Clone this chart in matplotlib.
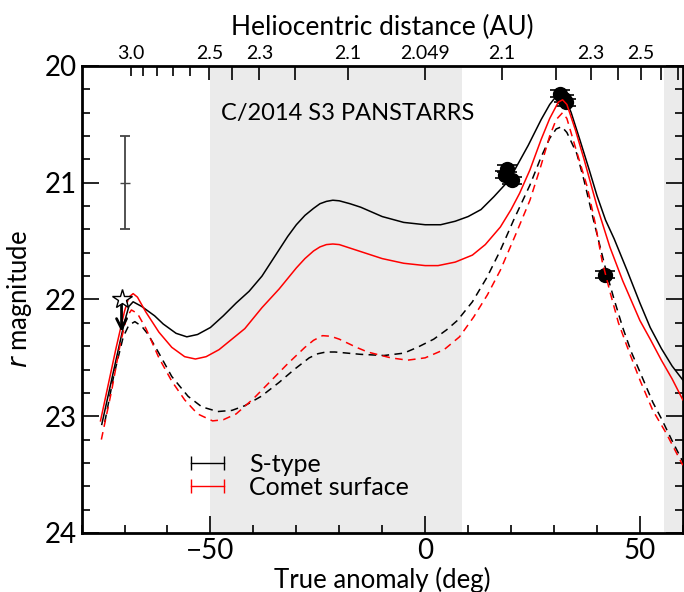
import numpy as np
import matplotlib
matplotlib.use('Agg')
import matplotlib.pyplot as plt
from matplotlib.lines import Line2D
from matplotlib.ticker import MultipleLocator

plt.rcParams['font.family'] = ['Lato', 'DejaVu Sans']

# Model light curves (true anomaly in deg, r mag)
STYPE_X = [-75.3, -72, -70, -69, -68, -66, -63, -61, -58, -55.5, -53, -50,
           -47, -44, -41, -38, -35, -32, -30, -28, -26, -24.5, -23, -21.5,
           -20, -17.5, -15, -10, -5, 0, 3.6, 7, 10, 13, 16, 19, 21, 24, 27,
           29, 30.5, 31.5, 32.5, 34, 36, 38.2, 40, 42, 44, 47, 50, 52.4, 55,
           57.5, 60]
STYPE_Y = [23.07, 22.52, 22.19, 22.06, 22.02, 22.06, 22.14, 22.21, 22.29,
           22.32, 22.30, 22.24, 22.14, 22.03, 21.93, 21.80, 21.63, 21.46,
           21.36, 21.28, 21.22, 21.18, 21.16, 21.15, 21.155, 21.18, 21.21,
           21.29, 21.34, 21.36, 21.36, 21.33, 21.29, 21.23, 21.12, 21.00,
           20.88, 20.68, 20.46, 20.33, 20.26, 20.24, 20.26, 20.40, 20.63,
           20.89, 21.11, 21.32, 21.48, 21.75, 22.03, 22.24, 22.42, 22.57,
           22.69]

COMET_X = [-75.6, -72, -70, -69, -68, -67, -65, -62, -59, -56, -53.5, -51,
           -48, -45, -42, -38, -34, -30, -28, -26, -24.5, -23, -21.5, -20,
           -17.5, -15, -10, -5, 0, 3, 7, 11, 14, 17.5, 20, 22, 24.4, 27, 29,
           31, 32, 33, 35, 37, 40, 43, 46, 50, 52.4, 55, 57.5, 60]
COMET_Y = [23.04, 22.42, 22.10, 21.98, 21.95, 21.98, 22.11, 22.28, 22.41,
           22.49, 22.51, 22.49, 22.43, 22.34, 22.25, 22.07, 21.91, 21.73,
           21.65, 21.585, 21.55, 21.53, 21.525, 21.53, 21.56, 21.59, 21.65,
           21.69, 21.71, 21.71, 21.68, 21.62, 21.53, 21.38, 21.23, 21.09,
           20.89, 20.63, 20.45, 20.31, 20.29, 20.33, 20.55, 20.80, 21.20,
           21.55, 21.84, 22.18, 22.34, 22.52, 22.68, 22.86]

STYPE_D_X = [-74.6, -72.5, -70.3, -69, -67.6, -66, -64.5, -62, -59, -55.2,
             -52, -48.3, -45, -42, -38.2, -34, -30.5, -27, -25, -23.1, -21,
             -18, -15, -9.6, -5, -1.8, 2, 5, 7.5, 11, 14.4, 17.5, 20.6, 24.4,
             27, 29, 30.5, 31.8, 33, 35.3, 37, 39.2, 42.3, 44, 46, 48, 50, 53,
             55, 57.5, 60]
STYPE_D_Y = [23.05, 22.65, 22.32, 22.22, 22.19, 22.23, 22.30, 22.46, 22.66,
             22.83, 22.92, 22.96, 22.95, 22.91, 22.83, 22.71, 22.60, 22.50,
             22.465, 22.45, 22.45, 22.46, 22.47, 22.48, 22.46, 22.41, 22.34,
             22.26, 22.18, 22.02, 21.81, 21.58, 21.32, 21.02, 20.78, 20.62,
             20.54, 20.52, 20.57, 20.75, 20.98, 21.32, 21.78, 22.00, 22.24,
             22.45, 22.62, 22.88, 23.02, 23.21, 23.39]

COMET_D_X = [-75.4, -73, -71, -69.5, -68.4, -67, -65, -62, -59, -56, -53,
             -49.5, -47, -44, -40, -36, -32, -28, -26, -23.9, -22, -20, -16,
             -13.4, -8, -4.1, 0, 4.4, 8, 11.3, 14.5, 17.5, 21, 24.4, 27, 29,
             30.5, 32, 33, 35, 37.7, 39.5, 41.2, 43, 45, 47.5, 50, 53, 56.2,
             60]
COMET_D_Y = [23.20, 22.78, 22.38, 22.15, 22.09, 22.12, 22.25, 22.50, 22.70,
             22.86, 22.98, 23.04, 23.03, 22.98, 22.85, 22.70, 22.55, 22.41,
             22.35, 22.31, 22.315, 22.34, 22.41, 22.45, 22.50, 22.52, 22.50,
             22.43, 22.32, 22.15, 21.96, 21.75, 21.45, 21.15, 20.85, 20.60,
             20.46, 20.40, 20.45, 20.70, 21.03, 21.33, 21.67, 21.93, 22.20,
             22.45, 22.69, 22.95, 23.15, 23.42]

# Observations
OBS_X = [19.1, 18.7, 20.2, 31.4, 32.3, 32.8, 41.9]
OBS_Y = [20.88, 20.93, 20.98, 20.24, 20.28, 20.31, 21.79]
OBS_ERR = [0.03, 0.03, 0.03, 0.03, 0.03, 0.03, 0.03]

# Upper limit (star + arrow) and typical error bar
LIMIT_X, LIMIT_Y = -70.7, 22.0
TYPICAL_X, TYPICAL_Y, TYPICAL_ERR = -70.0, 21.0, 0.4

# Shaded true anomaly ranges
SHADE_SPANS = [(-50, 8.6), (55.5, 60)]

# Top axis: heliocentric distance (AU) on a near-parabolic orbit
PERIHELION_Q = 2.049
DIST_LEFT = [3.0, 2.9, 2.8, 2.7, 2.6, 2.5, 2.4, 2.3, 2.2, 2.1]
DIST_RIGHT = [2.1, 2.2, 2.3, 2.4, 2.5, 2.6, 2.7]
DIST_LABELED = [3.0, 2.5, 2.3, 2.1]


def anomaly_of(r):
    return np.degrees(2 * np.arccos(np.sqrt(PERIHELION_Q / r)))


fig = plt.figure(figsize=(6.84, 5.92), dpi=100)
ax = fig.add_axes([0.1193, 0.0997, 0.879, 0.7889])

for lo, hi in SHADE_SPANS:
    ax.axvspan(lo, hi, color='#ebebeb', lw=0, zorder=0)

ax.errorbar(OBS_X, OBS_Y, yerr=OBS_ERR, fmt='o', color='black', ms=10,
            capsize=7, elinewidth=1, capthick=1.2, zorder=2)

ax.plot(STYPE_X, STYPE_Y, color='black', lw=1.1, zorder=3)
ax.plot(COMET_X, COMET_Y, color='red', lw=1.1, zorder=3)
ax.plot(STYPE_D_X, STYPE_D_Y, color='black', lw=1.1, dashes=(5, 3.5), zorder=3)
ax.plot(COMET_D_X, COMET_D_Y, color='red', lw=1.1, dashes=(5, 3.5), zorder=3)

ax.errorbar([TYPICAL_X], [TYPICAL_Y], yerr=[TYPICAL_ERR], fmt='_',
            color='#444444', ms=7, capsize=3.5, elinewidth=1.3, capthick=1.3)

ax.annotate('', xy=(LIMIT_X, LIMIT_Y + 0.3), xytext=(LIMIT_X, LIMIT_Y),
            arrowprops=dict(arrowstyle='->', lw=2, color='black',
                            mutation_scale=18), zorder=4)
ax.plot([LIMIT_X], [LIMIT_Y], marker='*', ms=15, mfc='white', mec='black',
        mew=1, zorder=5)

ax.text(0.443, 0.899, 'C/2014 S3 PANSTARRS', transform=ax.transAxes,
        ha='center', va='center', fontsize=17)

ax.set_xlim(-80, 60)
ax.set_ylim(24, 20)
ax.xaxis.set_major_locator(MultipleLocator(50))
ax.xaxis.set_minor_locator(MultipleLocator(10))
ax.yaxis.set_major_locator(MultipleLocator(1))
ax.yaxis.set_minor_locator(MultipleLocator(0.2))
ax.tick_params(which='both', direction='in', right=True, top=False,
               labelsize=20, width=1.2)
ax.tick_params(which='major', length=12)
ax.tick_params(which='minor', length=6)
for sp in ax.spines.values():
    sp.set_linewidth(2)

ax.set_xlabel('True anomaly (deg)', fontsize=18.5, labelpad=2)
ax.set_ylabel(r'$r$ magnitude', fontsize=18.5, labelpad=8)

handles = [Line2D([], [], color='black', lw=1, marker='|', ms=10, mew=1),
           Line2D([], [], color='red', lw=1, marker='|', ms=10, mew=1)]
ax.legend(handles, ['S-type', 'Comet surface'], numpoints=2, frameon=False,
          fontsize=18, loc='upper left', bbox_to_anchor=(0.17, 0.172),
          borderpad=0, borderaxespad=0, handlelength=1.9, handletextpad=0.7,
          labelspacing=0.02)

# top axis with heliocentric distance
top = ax.twiny()
top.set_xlim(ax.get_xlim())
left_pos = [-anomaly_of(r) for r in DIST_LEFT]
right_pos = [anomaly_of(r) for r in DIST_RIGHT]
major_pos, major_lab, minor_pos, minor_lab = [], [], [], []
for r, p in zip(DIST_LEFT, left_pos):
    lab = '%.1f' % r if r in DIST_LABELED else ''
    if r > 2.5:
        minor_pos.append(p)
        minor_lab.append(lab)
    else:
        major_pos.append(p)
        major_lab.append(lab)
major_pos.append(0.0)
major_lab.append('%.3f' % PERIHELION_Q)
for r, p in zip(DIST_RIGHT, right_pos):
    major_pos.append(p)
    major_lab.append('%.1f' % r if r in DIST_LABELED else '')
top.set_xticks(major_pos, major_lab)
top.set_xticks(minor_pos, minor_lab, minor=True)
top.tick_params(which='both', direction='in', labelsize=14, pad=3, width=1.2)
top.tick_params(which='major', length=10)
top.tick_params(which='minor', length=7)
top.set_xlabel('Heliocentric distance (AU)', fontsize=19, labelpad=7)
for sp in top.spines.values():
    sp.set_visible(False)

fig.savefig('out.png', dpi=100)
